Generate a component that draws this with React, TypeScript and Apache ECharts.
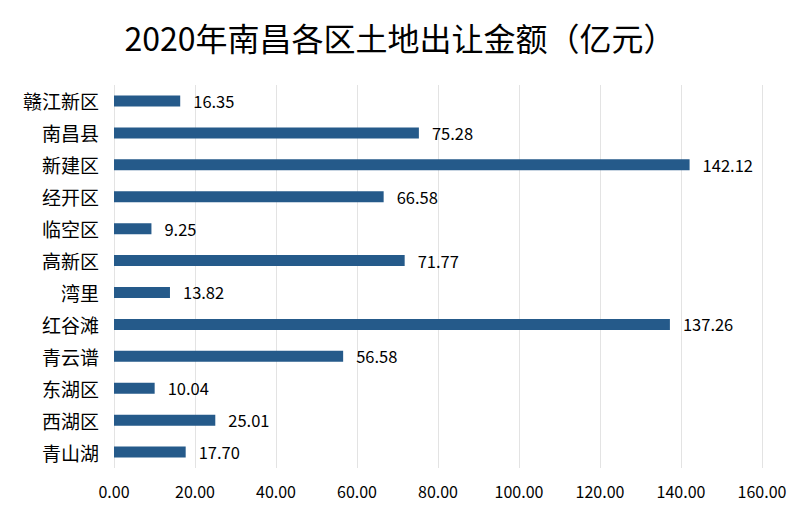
import React, { useEffect, useRef } from "react";
import * as echarts from "echarts";

const titleText = "2020年南昌各区土地出让金额（亿元）";
const districts = ["赣江新区", "南昌县", "新建区", "经开区", "临空区", "高新区", "湾里", "红谷滩", "青云谱", "东湖区", "西湖区", "青山湖"];
const amounts = [16.35, 75.28, 142.12, 66.58, 9.25, 71.77, 13.82, 137.26, 56.58, 10.04, 25.01, 17.7];
const xMin = 0;
const xMax = 160;
const xStep = 20;

export default function App() {
  const ref = useRef<HTMLDivElement>(null);
  useEffect(() => {
    document.body.style.margin = "0";
    const chart = echarts.init(ref.current!, null, { renderer: "svg" });
    const font = "'Noto Sans CJK SC', 'Noto Sans', sans-serif";
    chart.setOption({
      animation: false,
      backgroundColor: "#ffffff",
      title: {
        text: titleText,
        left: "center",
        top: 16,
        textStyle: { fontFamily: font, fontSize: 32, fontWeight: "normal", color: "#000" },
      },
      grid: { left: 114, right: 38, top: 85, bottom: 52, containLabel: false },
      xAxis: {
        type: "value",
        min: xMin,
        max: xMax,
        interval: xStep,
        axisLine: { show: false },
        axisTick: { show: false },
        axisLabel: {
          formatter: (v: number) => v.toFixed(2),
          fontFamily: font,
          fontSize: 16,
          color: "#000",
          margin: 15,
        },
        splitLine: { show: true, lineStyle: { color: "#e3e3e3", width: 1 } },
      },
      yAxis: {
        type: "category",
        data: districts,
        inverse: true,
        axisLine: { show: false },
        axisTick: { show: false },
        axisLabel: { fontFamily: font, fontSize: 19, color: "#000", margin: 15 },
      },
      series: [
        {
          type: "bar",
          data: amounts,
          barWidth: 11,
          itemStyle: { color: "#255a8a" },
          label: {
            show: true,
            position: "right",
            distance: 13,
            formatter: (p: any) => Number(p.value).toFixed(2),
            fontFamily: font,
            fontSize: 16.5,
            color: "#000",
          },
        },
      ],
    });
    return () => chart.dispose();
  }, []);
  return <div ref={ref} style={{ width: 800, height: 520 }} />;
}
